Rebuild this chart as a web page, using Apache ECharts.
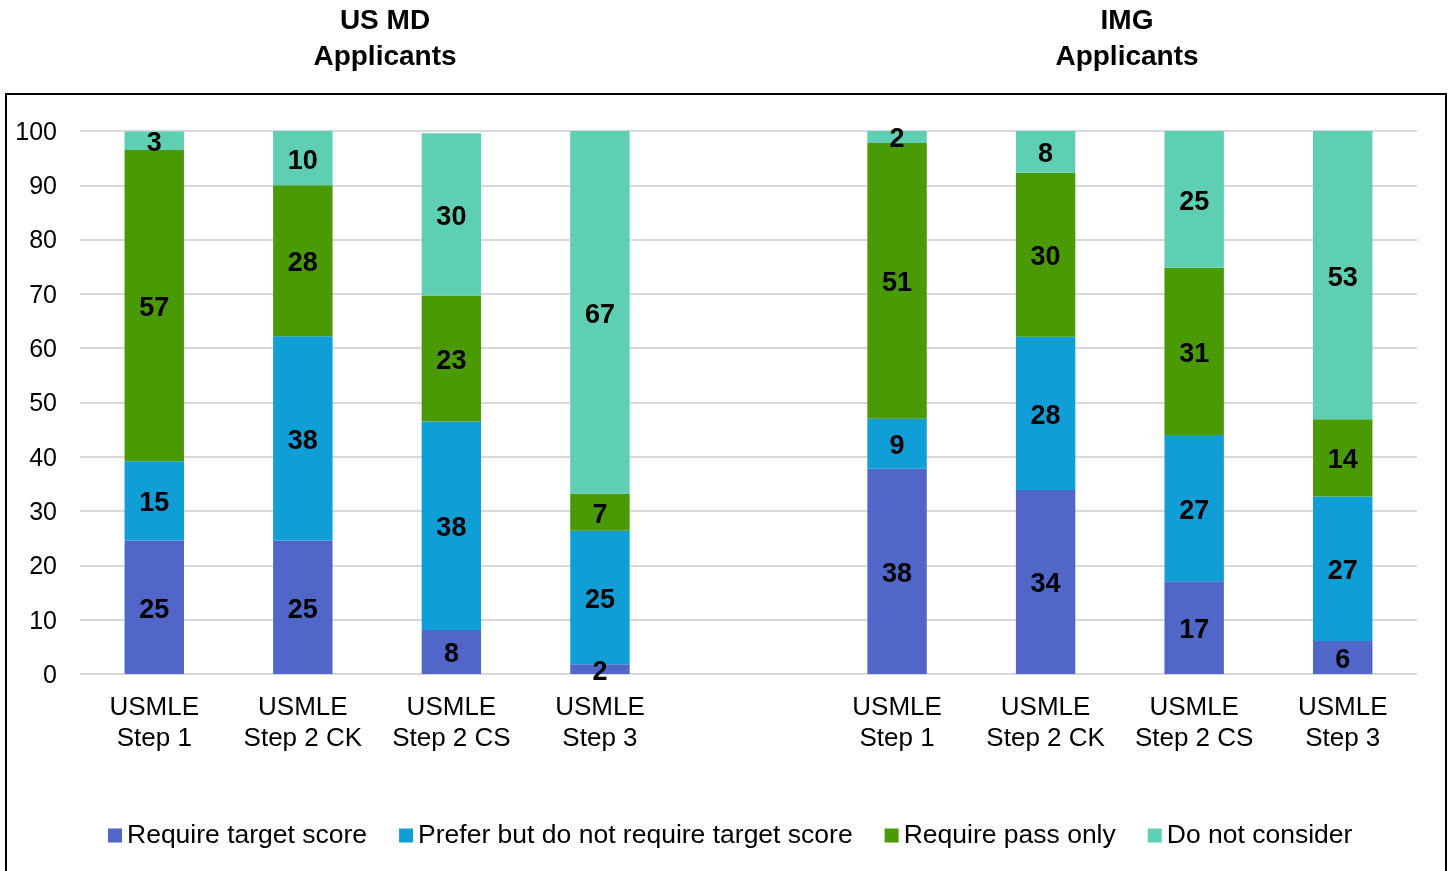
<!DOCTYPE html>
<html>
<head>
<meta charset="utf-8">
<script src="https://cdn.jsdelivr.net/npm/echarts@6/dist/echarts.min.js"></script>
<style>
  html, body { margin: 0; padding: 0; background: #fff; }
  #chart { width: 1452px; height: 871px; }
</style>
</head>
<body>
<div id="chart"></div>
<script>
// ---- Data ----
const categories = ['USMLE\nStep 1', 'USMLE\nStep 2 CK', 'USMLE\nStep 2 CS', 'USMLE\nStep 3', '',
                    'USMLE\nStep 1', 'USMLE\nStep 2 CK', 'USMLE\nStep 2 CS', 'USMLE\nStep 3'];
const seriesNames = ['Require target score', 'Prefer but do not require target score', 'Require pass only', 'Do not consider'];
const groupTitles = ['US MD\nApplicants', 'IMG\nApplicants'];
const yTicks = [0, 10, 20, 30, 40, 50, 60, 70, 80, 90, 100];

// US MD applicants: Step 1, Step 2 CK, Step 2 CS, Step 3
const usmdTarget  = [24.6, 24.6, 8.1, 1.8];
const usmdPrefer  = [14.6, 37.6, 38.4, 24.6];
const usmdPass    = [57.3, 27.8, 23.2, 6.8];
const usmdNotCons = [3.4, 10.0, 29.9, 66.8];

// IMG applicants: Step 1, Step 2 CK, Step 2 CS, Step 3
const imgTarget  = [37.8, 33.9, 17.1, 6.1];
const imgPrefer  = [9.2, 28.2, 26.9, 26.6];
const imgPass    = [50.8, 30.2, 30.8, 14.2];
const imgNotCons = [2.2, 7.7, 25.2, 53.1];

const colors = ['#5066C9', '#0F9ED5', '#4A9A06', '#5ECFB2'];

// ---- Build ----
const join = (a, b) => a.concat(['-']).concat(b);
const seriesData = [
  join(usmdTarget, imgTarget),
  join(usmdPrefer, imgPrefer),
  join(usmdPass, imgPass),
  join(usmdNotCons, imgNotCons)
];

const FONT = 'Arial, "Liberation Sans", sans-serif';

const chart = echarts.init(document.getElementById('chart'));
chart.setOption({
  animation: false,
  textStyle: { fontFamily: FONT, color: '#000' },
  color: colors,
  title: [
    { text: groupTitles[0], left: 385, top: 3, padding: 0, textAlign: 'center',
      textStyle: { fontFamily: FONT, fontSize: 28, fontWeight: 'bold', lineHeight: 36, color: '#000' } },
    { text: groupTitles[1], left: 1127, top: 3, padding: 0, textAlign: 'center',
      textStyle: { fontFamily: FONT, fontSize: 28, fontWeight: 'bold', lineHeight: 36, color: '#000' } }
  ],
  graphic: [{
    type: 'rect', z: -10,
    shape: { x: 6, y: 94, width: 1440, height: 820 },
    style: { fill: 'none', stroke: '#000', lineWidth: 2 }
  }],
  legend: {
    data: seriesNames,
    top: 817,
    left: 103,
    itemWidth: 14,
    itemHeight: 14,
    itemGap: 32,
    icon: 'rect',
    textStyle: { fontFamily: FONT, fontSize: 26.5, color: '#000' }
  },
  grid: { left: 80, right: 35, top: 131, bottom: 197 },
  xAxis: {
    type: 'category',
    data: categories,
    axisLine: { show: false },
    axisTick: { show: false },
    axisLabel: { fontFamily: FONT, fontSize: 26, lineHeight: 31, color: '#000', margin: 18, interval: 0 }
  },
  yAxis: {
    type: 'value',
    min: yTicks[0], max: yTicks[yTicks.length - 1], interval: 10,
    axisLine: { show: false },
    axisTick: { show: false },
    axisLabel: { fontFamily: FONT, fontSize: 25, color: '#000', margin: 23, verticalAlign: 'top', lineHeight: 4 },
    splitLine: { lineStyle: { color: '#D9D9D9', width: 2 } }
  },
  series: seriesNames.map((name, i) => ({
    name: name,
    type: 'bar',
    stack: 'total',
    barWidth: '40%',
    data: seriesData[i],
    itemStyle: { color: colors[i] },
    label: {
      show: true,
      position: 'inside',
      offset: [0, 3],
      fontFamily: FONT,
      fontSize: 27,
      fontWeight: 'bold',
      color: '#000',
      formatter: p => (p.value === '-' ? '' : String(Math.round(p.value)))
    }
  }))
});
</script>
</body>
</html>
